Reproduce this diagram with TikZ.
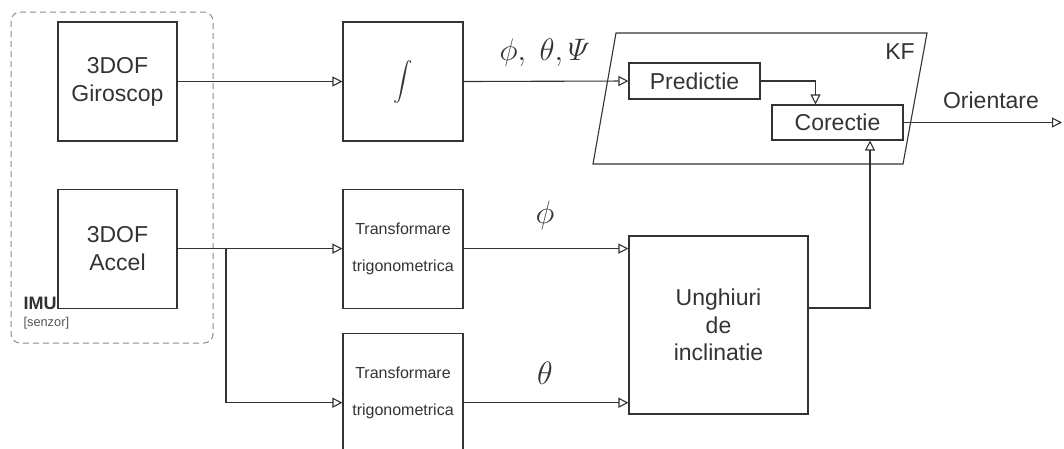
\documentclass[tikz,border=0pt]{standalone}
\usepackage{amsmath}
\usepackage{graphicx}
\usepackage{fontspec}
\setmainfont{Liberation Sans}
\usepackage{xcolor}
\usetikzlibrary{positioning,arrows.meta}
\definecolor{ink}{HTML}{333333}
\definecolor{dashgray}{HTML}{8C8C8C}
\definecolor{labelgray}{HTML}{555555}

\begin{document}
\begin{tikzpicture}[x=1pt,y=-1pt,color=ink,line width=1.1pt,
    blk/.style={draw=ink,minimum width=119pt,minimum height=119pt,inner sep=0pt,align=center,font=\fontsize{23}{28}\selectfont},
    kfbox/.style={draw=ink,minimum width=131pt,minimum height=36pt,inner sep=0pt,font=\fontsize{23}{28}\selectfont},
    mathlbl/.style={font=\fontsize{24}{28}\selectfont},
    arr/.style={draw=ink,-{Triangle[open,length=10pt,width=10pt]}}]
  \useasboundingbox (0,0) rectangle (1064,448);
  % senzor IMU
  \draw[dash pattern=on 6pt off 4pt,color=dashgray,rounded corners=9pt,line width=1pt] (11,12) rectangle (213,343);
  \node[blk] (gyro) at (117.5,81.5) {3DOF\\Giroscop};
  \node[blk,below=47pt of gyro] (accel) {3DOF\\Accel};
  \node[anchor=west,inner sep=0pt,font=\bfseries\fontsize{18}{20}\selectfont] (imu) at (23,303) {IMU};
  \node[anchor=west,inner sep=0pt,text=labelgray,font=\fontsize{12.8}{14}\selectfont] (senz) at (23,323) {[senzor]};
  % prelucrare
  \node[blk,minimum width=120pt,font=\fontsize{19}{22}\selectfont] (integ) at (403,81.5) {\scalebox{1.12}{$\displaystyle\int$}};
  \node[blk,minimum width=120pt,below=47pt of integ,font=\fontsize{16}{37}\selectfont] (trig1) {Transformare\\trigonometrica};
  \node[blk,minimum width=120pt,below=24pt of trig1,font=\fontsize{16}{37}\selectfont] (trig2) {Transformare\\trigonometrica};
  \node[blk,minimum width=179pt,minimum height=178pt,font=\fontsize{23}{27.5}\selectfont] (ung) at (718.5,325) {Unghiuri\\de\\inclinatie};
  % filtru Kalman
  \draw (616,33) -- (927,33) -- (903,164) -- (593,164) -- cycle;
  \node[font=\fontsize{23}{28}\selectfont] (kf) at (900,52) {KF};
  \node[kfbox] (pred) at (694.5,81) {Predictie};
  \node[kfbox,minimum height=35pt] (corr) at (837.5,122.5) {Corectie};
  \coordinate (out) at (1062,122.5);
  \coordinate (split) at (226,247.5);
  % etichete
  \node[mathlbl] (lblgyro) at (545,53) {\scalebox{1.25}{$\phi,\ \theta,\varPsi$}};
  \node[mathlbl] (lblphi) at (545,215) {\scalebox{1.3}{$\phi$}};
  \node[mathlbl] (lbltheta) at (545,373) {\scalebox{1.3}{$\theta$}};
  \node[font=\fontsize{23}{28}\selectfont] (orient) at (991,100) {Orientare};
  % legaturi
  \draw[arr] (gyro.east) -- (integ.west);
  \draw[arr] (integ.east) -- (pred.west);
  \draw[arr] (pred.east) -| ([xshift=-22pt]corr.north);
  \draw[arr] (accel.east) -- (trig1.west);
  \draw[arr] (split) |- ([yshift=-10pt]trig2.west);
  \draw[arr] (trig1.east) -- (trig1.east -| ung.west);
  \draw[arr] ([yshift=-10pt]trig2.east) -- ([yshift=-10pt]trig2.east -| ung.west);
  \draw[arr] ([yshift=17pt]ung.east) -| ([xshift=32.5pt]corr.south);
  \draw[arr] (corr.east) -- (out);
\end{tikzpicture}
\end{document}
